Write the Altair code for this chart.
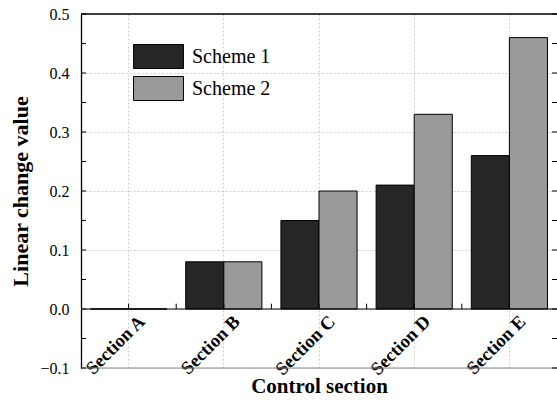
import altair as alt
import pandas as pd

sections = ["Section A", "Section B", "Section C", "Section D", "Section E"]
schemes = ["Scheme 1", "Scheme 2"]
scheme1 = [0.0, 0.08, 0.15, 0.21, 0.26]
scheme2 = [0.0, 0.08, 0.20, 0.33, 0.46]
colors = ["#262626", "#9a9a9a"]
y_major = [-0.1, 0.0, 0.1, 0.2, 0.3, 0.4, 0.5]
y_minor = [-0.05, 0.05, 0.15, 0.25, 0.35, 0.45]

rows = []
for s, a, b in zip(sections, scheme1, scheme2):
    rows.append({"section": s, "scheme": schemes[0], "value": a})
    rows.append({"section": s, "scheme": schemes[1], "value": b})
df = pd.DataFrame(rows)

W, H = 476, 354
FONT = "Liberation Serif"
ZERO_OFF = -59
STEP = W / len(sections)

xscale = alt.Scale(domain=sections, paddingInner=0.2, paddingOuter=0.1)
yscale = alt.Scale(domain=[-0.1, 0.5], nice=False, zero=False)

x_axis = alt.Axis(
    title="Control section", offset=ZERO_OFF, labelAngle=-45,
    labelAlign="right", labelBaseline="middle", labelOffset=13,
    labelPadding=9, ticks=False, tickSize=0, domain=False,
    grid=True, gridColor="#cfcfcf", gridDash=[2, 2], gridWidth=1,
    labelFont=FONT, labelFontSize=18.5, labelFontWeight="bold",
    labelColor="black", titleFont=FONT, titleFontSize=21,
    titleFontWeight="bold", titleColor="black", titleY=83,
    titleBaseline="alphabetic",
)
y_axis = alt.Axis(
    title="Linear change value", values=y_major, format=".1f",
    ticks=False, tickSize=0, labelPadding=12, domain=True,
    domainColor="black", domainWidth=1.3, grid=True,
    gridColor="#cfcfcf", gridDash=[2, 2], gridWidth=1,
    labelFont=FONT, labelFontSize=16, labelColor="black",
    titleFont=FONT, titleFontSize=22, titleFontWeight="bold",
    titleColor="black", titlePadding=7,
)

bars = alt.Chart(df).mark_bar(stroke="black", strokeWidth=1, opacity=1).encode(
    x=alt.X("section:N", scale=xscale, sort=sections, axis=x_axis),
    xOffset=alt.XOffset("scheme:N", sort=schemes,
                        scale=alt.Scale(paddingInner=0, paddingOuter=0)),
    y=alt.Y("value:Q", scale=yscale, axis=y_axis),
    color=alt.Color(
        "scheme:N", scale=alt.Scale(domain=schemes, range=colors),
        legend=alt.Legend(
            title=None, orient="none", legendX=65, legendY=30, padding=0,
            symbolType="M-2.08,-1H2.08V1H-2.08Z", symbolSize=576,
            symbolStrokeColor="black", symbolStrokeWidth=1, symbolOpacity=1,
            labelFont=FONT, labelFontSize=20, labelColor="black",
            labelOffset=21, rowPadding=3,
        ),
    ),
)

zero_line = alt.Chart(pd.DataFrame({"value": [0.0]})).mark_rule(
    color="black", strokeWidth=1.2).encode(y=alt.Y("value:Q"))
top_line = alt.Chart(pd.DataFrame({"value": [0.5]})).mark_rule(
    color="black", strokeWidth=1.6).encode(y=alt.Y("value:Q"))
bottom_line = alt.Chart(pd.DataFrame({"value": [-0.1]})).mark_rule(
    color="#8a8a8a", strokeWidth=1.2).encode(y=alt.Y("value:Q"))

tick_df = pd.DataFrame({"value": y_major + y_minor})
left_ticks = alt.Chart(tick_df).mark_rule(color="black", strokeWidth=1).encode(
    y=alt.Y("value:Q"), x=alt.value(0), x2=alt.value(5))
right_ticks = alt.Chart(tick_df).mark_rule(color="black", strokeWidth=1).encode(
    y=alt.Y("value:Q"), x=alt.value(W - 5), x2=alt.value(W))

center_ticks = alt.Chart(pd.DataFrame({"section": sections})).mark_rule(
    color="black", strokeWidth=1).encode(
    x=alt.X("section:N", sort=sections),
    y=alt.datum(0.0), y2=alt.datum(0.009))

bound_ticks = alt.Chart(pd.DataFrame({"section": sections[1:]})).mark_rule(
    color="black", strokeWidth=1, xOffset=-0.1 * STEP).encode(
    x=alt.X("section:N", sort=sections, bandPosition=0),
    y=alt.datum(0.0), y2=alt.datum(0.009))

chart = alt.layer(
    bars, zero_line, top_line, bottom_line, left_ticks, right_ticks,
    center_ticks, bound_ticks,
).properties(
    width=W, height=H,
    autosize=alt.AutoSizeParams(type="none"),
    padding={"left": 81, "top": 14, "right": 0, "bottom": 32},
).configure_view(stroke=None)

chart.save("out.html", embed_options={"renderer": "svg", "actions": False})
